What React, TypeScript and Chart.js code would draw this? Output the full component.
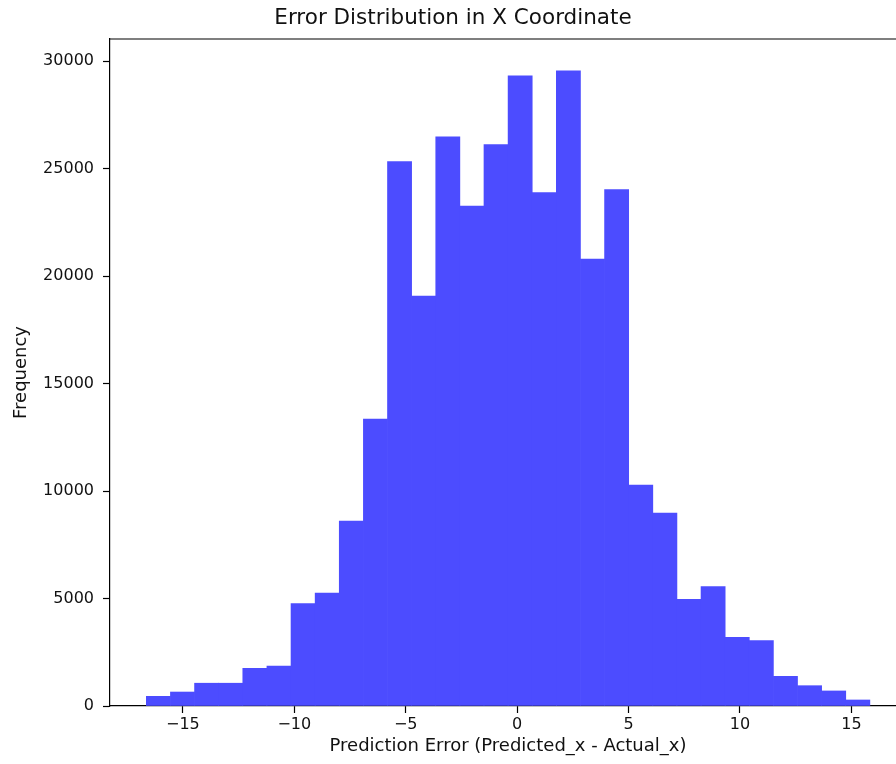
import React, { useEffect, useRef } from "react";
import { Chart, registerables } from "chart.js";

Chart.register(...registerables);

// Histogram: 30 bins
const binStart = -16.64;
const binWidth = 1.0823;
const counts = [
  450, 650, 1060, 1060, 1750, 1860, 4760, 5250, 8600, 13350,
  25330, 19070, 26480, 23260, 26120, 29320, 23880, 29550, 20790, 24030,
  10280, 8980, 4960, 5550, 3200, 3040, 1380, 945, 700, 280,
];
const xTicks = [-15, -10, -5, 0, 5, 10, 15];
const yTicks = [0, 5000, 10000, 15000, 20000, 25000, 30000];

const titleText = "Error Distribution in X Coordinate";
const xLabel = "Prediction Error (Predicted_x - Actual_x)";
const yLabel = "Frequency";

const FONT = "'DejaVu Sans', sans-serif";

const fmt = (v: number) => (v < 0 ? "\u2212" + Math.abs(v) : String(v));

const spines = {
  id: "spines",
  afterDraw(chart: any) {
    const { ctx, chartArea } = chart;
    ctx.save();
    ctx.strokeStyle = "#000";
    ctx.lineWidth = 1.2;
    ctx.beginPath();
    ctx.moveTo(chartArea.left, chartArea.top);
    ctx.lineTo(chartArea.right, chartArea.top);
    ctx.lineTo(chartArea.right, chartArea.bottom);
    ctx.stroke();
    ctx.restore();
  },
};

export default function App() {
  const ref = useRef<HTMLCanvasElement | null>(null);
  useEffect(() => {
    if (!ref.current) return;
    const data = counts.map((c, i) => ({ x: binStart + (i + 0.5) * binWidth, y: c }));
    const chart = new Chart(ref.current, {
      type: "bar",
      data: {
        datasets: [
          {
            data,
            backgroundColor: "#4c4cff",
            borderWidth: 0,
            barPercentage: 1,
            categoryPercentage: 1,
          },
        ],
      },
      options: {
        animation: false,
        responsive: false,
        maintainAspectRatio: false,
        layout: { padding: { left: 0, right: 110, top: 0, bottom: 0 } },
        plugins: {
          legend: { display: false },
          tooltip: { enabled: false },
          title: {
            display: true,
            text: titleText,
            color: "#111",
            font: { family: FONT, size: 21.5, weight: "normal" },
            padding: { top: 6, bottom: 7.2 },
          },
        },
        scales: {
          x: {
            type: "linear",
            min: -18.27,
            max: 17.45,
            offset: false,
            afterFit(scale: any) {
              scale.height = 58;
            },
            afterBuildTicks(scale: any) {
              scale.ticks = xTicks.map((v) => ({ value: v }));
            },
            ticks: {
              callback: (v: any) => fmt(Number(v)),
              color: "#111",
              font: { family: FONT, size: 16 },
              padding: 2,
              maxRotation: 0,
              autoSkip: false,
            },
            grid: {
              offset: false,
              drawOnChartArea: false,
              drawTicks: true,
              tickLength: 7,
              tickColor: "#000",
              tickWidth: 1.2,
            },
            border: { display: true, color: "#000", width: 1.2 },
            title: {
              display: true,
              text: xLabel,
              color: "#111",
              font: { family: FONT, size: 18 },
              padding: { top: 0, bottom: 7.2 },
            },
          },
          y: {
            type: "linear",
            min: 0,
            max: 31030,
            afterFit(scale: any) {
              scale.width = 110;
            },
            afterBuildTicks(scale: any) {
              scale.ticks = yTicks.map((v) => ({ value: v }));
            },
            ticks: {
              callback: (v: any) => String(v),
              color: "#111",
              font: { family: FONT, size: 16 },
              padding: 9,
              autoSkip: false,
            },
            grid: {
              drawOnChartArea: false,
              drawTicks: true,
              tickLength: 7,
              tickColor: "#000",
              tickWidth: 1.2,
            },
            border: { display: true, color: "#000", width: 1.2 },
            title: {
              display: true,
              text: yLabel,
              color: "#111",
              font: { family: FONT, size: 18 },
              padding: { top: 10.5, bottom: 0 },
            },
          },
        },
      },
      plugins: [spines],
    });
    return () => chart.destroy();
  }, []);

  return (
    <div
      style={{
        position: "absolute",
        left: 0,
        top: 0,
        width: 896,
        height: 764,
        overflow: "hidden",
        background: "#fff",
      }}
    >
      <canvas ref={ref} width={1016} height={764} style={{ width: 1016, height: 764, display: "block" }} />
    </div>
  );
}
